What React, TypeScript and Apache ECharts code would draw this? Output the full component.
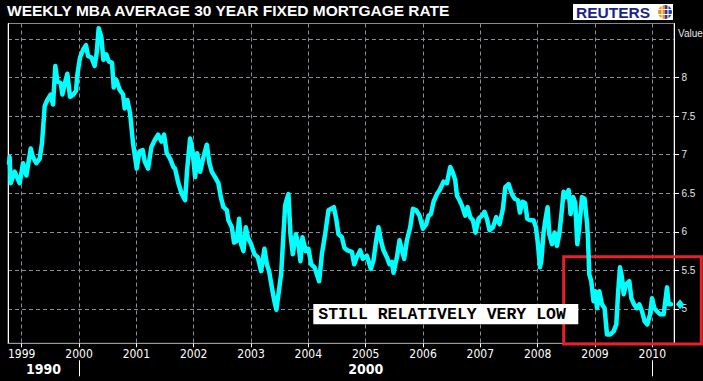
import React, { useEffect, useRef } from "react";
import * as echarts from "echarts";

const TITLE = "WEEKLY MBA AVERAGE 30 YEAR FIXED MORTGAGE RATE";
const NOTE = "STILL RELATIVELY VERY LOW";

// decimal-year dates and weekly rate (%)
const DATES: number[] = [
  1998.778, 1998.79, 1998.808, 1998.877, 1998.965, 1999.023, 1999.081, 1999.157, 1999.196, 1999.255,
  1999.314, 1999.354, 1999.401, 1999.447, 1999.506, 1999.546, 1999.587, 1999.622, 1999.68, 1999.709,
  1999.761, 1999.796, 1999.843, 1999.901, 1999.948, 1999.971, 2000.017, 2000.076, 2000.122, 2000.157,
  2000.215, 2000.273, 2000.308, 2000.343, 2000.39, 2000.425, 2000.477, 2000.518, 2000.576, 2000.605,
  2000.651, 2000.71, 2000.768, 2000.797, 2000.843, 2000.89, 2000.942, 2001.006, 2001.053, 2001.111,
  2001.146, 2001.204, 2001.262, 2001.321, 2001.379, 2001.437, 2001.483, 2001.53, 2001.588, 2001.646,
  2001.675, 2001.733, 2001.792, 2001.85, 2001.885, 2001.937, 2001.978, 2002.025, 2002.06, 2002.112,
  2002.17, 2002.229, 2002.274, 2002.315, 2002.373, 2002.431, 2002.473, 2002.519, 2002.578, 2002.606,
  2002.665, 2002.705, 2002.752, 2002.792, 2002.827, 2002.868, 2002.909, 2002.944, 2003.002, 2003.06,
  2003.119, 2003.176, 2003.2, 2003.234, 2003.276, 2003.316, 2003.363, 2003.408, 2003.443, 2003.478,
  2003.525, 2003.566, 2003.595, 2003.635, 2003.653, 2003.688, 2003.729, 2003.782, 2003.827, 2003.862,
  2003.897, 2003.956, 2004.002, 2004.049, 2004.107, 2004.148, 2004.188, 2004.236, 2004.293, 2004.351,
  2004.398, 2004.445, 2004.49, 2004.525, 2004.585, 2004.63, 2004.683, 2004.76, 2004.8, 2004.846,
  2004.904, 2004.951, 2005.021, 2005.09, 2005.136, 2005.183, 2005.223, 2005.265, 2005.311, 2005.37,
  2005.415, 2005.457, 2005.485, 2005.545, 2005.59, 2005.632, 2005.672, 2005.719, 2005.777, 2005.824,
  2005.881, 2005.939, 2005.998, 2006.056, 2006.096, 2006.138, 2006.184, 2006.243, 2006.288, 2006.358,
  2006.417, 2006.475, 2006.515, 2006.562, 2006.592, 2006.637, 2006.679, 2006.736, 2006.777, 2006.824,
  2006.871, 2006.916, 2006.969, 2007.028, 2007.073, 2007.115, 2007.16, 2007.22, 2007.277, 2007.335,
  2007.394, 2007.435, 2007.492, 2007.551, 2007.597, 2007.656, 2007.691, 2007.736, 2007.783, 2007.818,
  2007.871, 2007.928, 2007.97, 2008.005, 2008.04, 2008.063, 2008.103, 2008.133, 2008.173, 2008.203,
  2008.25, 2008.295, 2008.337, 2008.377, 2008.412, 2008.452, 2008.492, 2008.54, 2008.574, 2008.621,
  2008.656, 2008.691, 2008.726, 2008.773, 2008.818, 2008.86, 2008.877, 2008.9, 2008.935, 2008.975,
  2009.005, 2009.035, 2009.075, 2009.122, 2009.167, 2009.209, 2009.267, 2009.325, 2009.372, 2009.401,
  2009.436, 2009.471, 2009.5, 2009.541, 2009.599, 2009.634, 2009.681, 2009.726, 2009.773, 2009.82,
  2009.866, 2009.913, 2009.96, 2009.995, 2010.035, 2010.082, 2010.14, 2010.197, 2010.257, 2010.284,
  2010.326,
];

const RATES: number[] = [
  6.89, 6.97, 6.63, 6.78, 6.63, 6.89, 6.73, 7.08, 6.97, 6.89,
  6.95, 7.15, 7.63, 7.71, 7.78, 7.65, 8.15, 7.95, 7.93, 7.78,
  7.95, 8.05, 7.75, 7.78, 7.83, 8.04, 8.26, 8.37, 8.42, 8.28,
  8.26, 8.15, 8.32, 8.64, 8.52, 8.23, 8.3, 8.21, 8.19, 7.87,
  7.97, 7.84, 7.78, 7.6, 7.71, 7.54, 7.15, 6.82, 7.04, 7.06,
  6.91, 6.82, 7.1, 7.19, 7.26, 7.17, 7.26, 7.02, 6.95, 6.84,
  6.82, 6.63, 6.49, 6.41, 6.8, 7.21, 7.06, 6.71, 7.02, 6.78,
  6.97, 7.13, 6.89, 6.78, 6.71, 6.63, 6.45, 6.32, 6.28, 6.15,
  6.06, 5.86, 5.88, 6.17, 5.84, 5.75, 6.06, 5.93, 5.84, 5.71,
  5.67, 5.49, 5.62, 5.78, 5.58, 5.49, 5.28, 5.1, 4.99, 5.19,
  5.45, 5.97, 6.34, 6.45, 6.49, 5.97, 5.71, 5.97, 5.84, 5.62,
  5.93, 5.75, 5.78, 5.58, 5.54, 5.45, 5.36, 5.71, 5.97, 6.28,
  6.3, 6.32, 6.15, 5.97, 5.93, 5.79, 5.76, 5.74, 5.58, 5.67,
  5.76, 5.65, 5.69, 5.52, 5.63, 5.89, 6.06, 5.89, 5.76, 5.67,
  5.58, 5.61, 5.47, 5.67, 5.89, 5.76, 5.65, 5.89, 6.06, 6.3,
  6.28, 6.21, 6.04, 6.1, 6.21, 6.23, 6.39, 6.49, 6.54, 6.65,
  6.63, 6.84, 6.78, 6.67, 6.47, 6.41, 6.34, 6.21, 6.32, 6.19,
  6.15, 5.99, 6.17, 6.21, 6.26, 6.17, 6.02, 6.06, 6.19, 6.1,
  6.3, 6.58, 6.62, 6.49, 6.43, 6.41, 6.25, 6.39, 6.37, 6.17,
  6.15, 6.15, 6.06, 5.84, 5.54, 5.62, 5.99, 6.15, 6.32, 5.97,
  5.84, 5.99, 5.82, 5.97, 6.21, 6.52, 6.45, 6.54, 6.23, 6.45,
  6.37, 5.84, 6.06, 6.45, 6.43, 6.12, 5.93, 5.45, 5.36, 5.1,
  5.23, 5.01, 5.23, 5.06, 5.01, 4.67, 4.67, 4.71, 4.8, 5.19,
  5.54, 5.41, 5.19, 5.32, 5.36, 5.14, 5.06, 5.01, 5.06, 4.97,
  4.84, 4.8, 4.93, 5.14, 5.01, 4.97, 4.93, 4.93, 5.28, 5.06,
  5.06,
];

const YEAR_TICKS = [1999, 2000, 2001, 2002, 2003, 2004, 2005, 2006, 2007, 2008, 2009, 2010];
const DECADE_BREAKS = [2000, 2010];
const DECADE_LABEL_AT = [1999.38, 2005];
const DECADE_LABELS = ["1990", "2000"];
const Y_LABELS = [5, 5.5, 6, 6.5, 7, 7.5, 8];
const Y_GRID = [5, 5.5, 6, 6.5, 7, 7.5, 8, 8.5];

const X_MIN = 1998.761;
const X_MAX = 2010.378;
const Y_MIN = 4.555;
const Y_MAX = 8.701;

const NARROW = '"Liberation Sans Narrow", "Arial Narrow", "DejaVu Sans Condensed", sans-serif';
const SANS = '"Liberation Sans", Arial, sans-serif';
const MONO = '"Liberation Mono", "Courier New", "DejaVu Sans Mono", monospace';

export default function App() {
  const ref = useRef<HTMLDivElement>(null);

  useEffect(() => {
    document.body.style.margin = "0";
    document.body.style.background = "#000";
    if (!ref.current) return;
    const chart = echarts.init(ref.current, undefined, { renderer: "svg" });
    const dash = { color: "#8c8c9c", type: [4, 3] as any, width: 1 };
    const last = DATES.length - 1;

    chart.setOption({
      animation: false,
      backgroundColor: "#000",
      grid: {
        left: 8,
        right: 29,
        top: 23.5,
        bottom: 37.7,
        show: true,
        borderColor: "#8a8a8a",
        borderWidth: 1,
        backgroundColor: "transparent",
      },
      xAxis: [
        {
          type: "value",
          min: X_MIN,
          max: X_MAX,
          position: "bottom",
          axisLine: { show: true, lineStyle: { color: "#9a9a9a", width: 1 } },
          axisTick: { show: true, customValues: YEAR_TICKS, length: 4, lineStyle: { color: "#fff" } },
          axisLabel: {
            customValues: YEAR_TICKS,
            formatter: (v: number) => String(Math.round(v)),
            color: "#fff",
            fontFamily: NARROW,
            fontSize: 12,
            margin: 4.5,
          },
          splitLine: { show: true, lineStyle: dash },
        },
        {
          type: "value",
          min: X_MIN,
          max: X_MAX,
          position: "bottom",
          offset: 17,
          axisLine: { show: false },
          axisTick: { show: true, customValues: DECADE_BREAKS, length: 16, lineStyle: { color: "#fff", width: 1 } },
          axisLabel: {
            customValues: DECADE_LABEL_AT,
            formatter: (v: number) => DECADE_LABELS[DECADE_LABEL_AT.indexOf(v)] ?? "",
            color: "#fff",
            fontFamily: NARROW,
            fontWeight: "bold",
            fontSize: 14,
            margin: 2,
          },
          splitLine: { show: false },
        },
      ],
      yAxis: [
        {
          type: "value",
          position: "right",
          min: Y_MIN,
          max: Y_MAX,
          axisLine: { show: true, lineStyle: { color: "#fff", width: 1 } },
          axisTick: { show: true, customValues: Y_LABELS, length: 5, lineStyle: { color: "#fff" } },
          axisLabel: { customValues: Y_LABELS, color: "#e6e6e6", fontFamily: SANS, fontSize: 10, margin: 7.5 },
          splitLine: { show: false },
        },
        {
          type: "value",
          position: "left",
          min: Y_MIN,
          max: Y_MAX,
          axisLine: { show: true, lineStyle: { color: "#fff", width: 1 } },
          axisTick: { show: false, customValues: Y_GRID },
          axisLabel: { show: false },
          splitLine: { show: true, lineStyle: dash },
        },
      ],
      series: [
        {
          type: "line",
          xAxisIndex: 0,
          yAxisIndex: 0,
          data: DATES.map((t, i) => [t, RATES[i]]),
          symbol: "none",
          showSymbol: false,
          lineStyle: { color: "#00ffff", width: 4.5, join: "round", cap: "round" },
          z: 5,
          markPoint: {
            symbol: "diamond",
            symbolSize: [8, 10],
            symbolOffset: [9, 0],
            label: { show: false },
            itemStyle: { color: "#00ffff" },
            data: [{ coord: [DATES[last], RATES[last]] }],
          },
        },
      ],
      graphic: [
        {
          type: "text",
          x: 7,
          y: 10.5,
          z: 100,
          style: { text: TITLE, fill: "#fff", font: `bold 15.5px ${SANS}`, verticalAlign: "middle" },
        },
        {
          type: "group",
          z: 100,
          children: [
            { type: "rect", shape: { x: 573, y: 4, width: 100, height: 16 }, style: { fill: "#fff" } },
            {
              type: "text",
              x: 576,
              y: 12,
              style: { text: "REUTERS", fill: "#1a1f8c", font: `bold 15.5px ${SANS}`, verticalAlign: "middle" },
            },
            {
              type: "sector",
              shape: { cx: 665, cy: 12, r: 7, startAngle: Math.PI / 2, endAngle: Math.PI * 1.5 },
              style: { fill: "#f28c1c" },
            },
            {
              type: "sector",
              shape: { cx: 665, cy: 12, r: 7, startAngle: -Math.PI / 2, endAngle: Math.PI / 2 },
              style: { fill: "#2a3aa8" },
            },
            { type: "line", shape: { x1: 658, y1: 9.5, x2: 672, y2: 9.5 }, style: { stroke: "#fff", lineWidth: 1 } },
            { type: "line", shape: { x1: 658, y1: 14.5, x2: 672, y2: 14.5 }, style: { stroke: "#fff", lineWidth: 1 } },
            { type: "line", shape: { x1: 662, y1: 5, x2: 662, y2: 19 }, style: { stroke: "#fff", lineWidth: 1 } },
            { type: "line", shape: { x1: 668, y1: 5, x2: 668, y2: 19 }, style: { stroke: "#fff", lineWidth: 1 } },
          ],
        },
        {
          type: "text",
          x: 678,
          y: 33.5,
          z: 100,
          style: { text: "Value", fill: "#e6e6e6", font: `10px ${SANS}`, verticalAlign: "middle" },
        },
        {
          type: "rect",
          z: 1,
          shape: { x: 563.7, y: 256.7, width: 137.6, height: 87.3 },
          style: { fill: "none", stroke: "#e8202a", lineWidth: 3 },
        },
        {
          type: "rect",
          z: 100,
          shape: { x: 313.3, y: 304, width: 265, height: 20.3 },
          style: { fill: "#fff" },
        },
        {
          type: "text",
          x: 318.3,
          y: 314.3,
          z: 101,
          style: { text: NOTE, fill: "#000", font: `bold 16.5px ${MONO}`, verticalAlign: "middle" },
        },
      ],
    });

    return () => chart.dispose();
  }, []);

  return <div ref={ref} style={{ width: 703, height: 381 }} />;
}
